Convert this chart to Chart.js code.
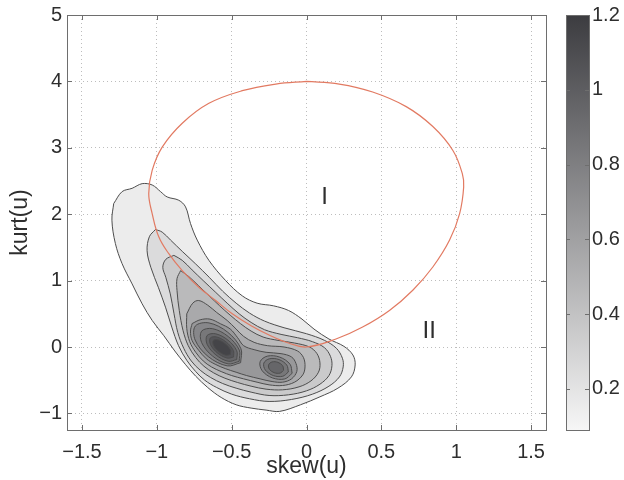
<!DOCTYPE html>
<html>
<head>
<meta charset="utf-8">
<script src="https://cdn.jsdelivr.net/npm/chart.js@4.4.1/dist/chart.umd.min.js"></script>
<style>
    body { margin: 0; background: #fff; }
</style>
</head>
<body>
<canvas id="contourChart" width="624" height="480"></canvas>
<script>
// ejes
const xTicks = [-1.5, -1, -0.5, 0, 0.5, 1, 1.5];
const yTicks = [-1, 0, 1, 2, 3, 4, 5];
const cbTicks = [0.2, 0.4, 0.6, 0.8, 1, 1.2];
const xRange = [-1.6, 1.6];
const yRange = [-1.25, 5];
const cbRange = [0.09, 1.2];

// niveles de contorno
const levels = [0.1, 0.2, 0.3, 0.4, 0.5, 0.6, 0.7, 0.8, 0.9, 1.0, 1.1];

// curvas de nivel [skew, kurt]
const c01 = [[-1.288,2.16],[-1.232,2.34],[-1.165,2.39],[-1.098,2.46],[-1.031,2.44],[-0.975,2.34],[-0.931,2.26],[-0.853,2.21],[-0.808,2.11],[-0.775,1.86],[-0.73,1.61],[-0.652,1.305],[-0.54,1.0],[-0.429,0.77],[-0.33,0.66],[-0.22,0.62],[-0.12,0.55],[-0.03,0.42],[0.05,0.27],[0.15,0.12],[0.25,0.01],[0.31,-0.12],[0.325,-0.27],[0.30,-0.45],[0.21,-0.62],[0.09,-0.75],[-0.04,-0.87],[-0.18,-0.97],[-0.27,-0.95],[-0.37,-0.92],[-0.47,-0.87],[-0.57,-0.76],[-0.66,-0.61],[-0.74,-0.44],[-0.81,-0.26],[-0.88,-0.06],[-0.953,0.17],[-1.031,0.40],[-1.098,0.65],[-1.165,0.95],[-1.232,1.255],[-1.277,1.56],[-1.30,1.91]];
const c02 = [[-1.009,1.77],[-0.964,1.73],[-0.908,1.61],[-0.83,1.44],[-0.74,1.25],[-0.65,1.05],[-0.56,0.84],[-0.47,0.66],[-0.38,0.51],[-0.28,0.39],[-0.15,0.29],[0.0,0.20],[0.12,0.10],[0.20,-0.02],[0.24,-0.17],[0.245,-0.30],[0.22,-0.45],[0.15,-0.59],[0.04,-0.71],[-0.10,-0.79],[-0.25,-0.82],[-0.38,-0.78],[-0.50,-0.71],[-0.60,-0.61],[-0.68,-0.50],[-0.74,-0.37],[-0.80,-0.20],[-0.855,0.02],[-0.90,0.30],[-0.942,0.60],[-0.99,0.90],[-1.04,1.20],[-1.065,1.45],[-1.05,1.66]];
const c03 = [[-0.886,1.38],[-0.83,1.305],[-0.764,1.16],[-0.69,1.0],[-0.61,0.83],[-0.53,0.66],[-0.45,0.50],[-0.37,0.37],[-0.28,0.26],[-0.17,0.19],[-0.06,0.14],[0.04,0.08],[0.12,-0.01],[0.16,-0.14],[0.17,-0.28],[0.15,-0.43],[0.09,-0.56],[0.0,-0.66],[-0.12,-0.72],[-0.25,-0.73],[-0.37,-0.68],[-0.47,-0.62],[-0.56,-0.55],[-0.64,-0.46],[-0.71,-0.35],[-0.77,-0.21],[-0.82,-0.02],[-0.86,0.22],[-0.885,0.50],[-0.91,0.80],[-0.94,1.05],[-0.96,1.2],[-0.94,1.32]];
const c04 = [[-0.841,1.15],[-0.786,1.06],[-0.72,0.92],[-0.65,0.77],[-0.58,0.62],[-0.51,0.48],[-0.44,0.35],[-0.37,0.24],[-0.29,0.15],[-0.19,0.10],[-0.08,0.06],[0.02,0.0],[0.07,-0.10],[0.09,-0.24],[0.08,-0.38],[0.03,-0.51],[-0.05,-0.60],[-0.16,-0.645],[-0.27,-0.635],[-0.37,-0.59],[-0.46,-0.535],[-0.545,-0.47],[-0.62,-0.39],[-0.685,-0.29],[-0.74,-0.16],[-0.79,0.02],[-0.825,0.25],[-0.85,0.55],[-0.865,0.85],[-0.865,1.03]];
const c05 = [[-0.80,0.50],[-0.76,0.66],[-0.72,0.70],[-0.66,0.63],[-0.60,0.52],[-0.53,0.40],[-0.47,0.27],[-0.42,0.16],[-0.35,0.07],[-0.26,0.02],[-0.15,0.0],[-0.06,-0.06],[-0.02,-0.16],[-0.01,-0.30],[-0.025,-0.42],[-0.08,-0.53],[-0.16,-0.58],[-0.25,-0.57],[-0.33,-0.53],[-0.42,-0.48],[-0.50,-0.43],[-0.57,-0.37],[-0.635,-0.30],[-0.69,-0.21],[-0.74,-0.08],[-0.78,0.08],[-0.80,0.28]];
const c06 = [[-0.764,0.353],[-0.71,0.41],[-0.645,0.42],[-0.575,0.35],[-0.509,0.27],[-0.46,0.14],[-0.42,0.02],[-0.35,-0.04],[-0.27,-0.08],[-0.17,-0.10],[-0.10,-0.15],[-0.07,-0.25],[-0.065,-0.37],[-0.10,-0.48],[-0.16,-0.53],[-0.23,-0.52],[-0.31,-0.48],[-0.40,-0.43],[-0.47,-0.38],[-0.543,-0.325],[-0.61,-0.26],[-0.669,-0.178],[-0.72,-0.05],[-0.765,0.10],[-0.775,0.24]];
const c07a = [[-0.440,-0.236],[-0.530,-0.284],[-0.657,-0.143],[-0.744,0.105],[-0.743,0.315],[-0.652,0.363],[-0.526,0.222],[-0.438,-0.026]];
const c07b = [[-0.096,-0.396],[-0.145,-0.481],[-0.228,-0.465],[-0.296,-0.358],[-0.310,-0.222],[-0.261,-0.137],[-0.178,-0.153],[-0.110,-0.260]];
const c08a = [[-0.450,-0.217],[-0.524,-0.254],[-0.628,-0.136],[-0.701,0.068],[-0.701,0.239],[-0.627,0.276],[-0.523,0.158],[-0.449,-0.046]];
const c08b = [[-0.121,-0.376],[-0.159,-0.441],[-0.222,-0.430],[-0.275,-0.347],[-0.285,-0.242],[-0.247,-0.177],[-0.184,-0.189],[-0.132,-0.271]];
const c09a = [[-0.466,-0.189],[-0.523,-0.215],[-0.605,-0.120],[-0.664,0.041],[-0.664,0.173],[-0.607,0.199],[-0.525,0.104],[-0.466,-0.057]];
const c09b = [[-0.153,-0.350],[-0.176,-0.393],[-0.216,-0.387],[-0.248,-0.335],[-0.253,-0.268],[-0.230,-0.225],[-0.191,-0.231],[-0.159,-0.283]];
const c10 = [[-0.487,-0.151],[-0.530,-0.167],[-0.595,-0.090],[-0.641,0.035],[-0.643,0.135],[-0.600,0.151],[-0.536,0.074],[-0.489,-0.051]];
const c11 = [[-0.508,-0.113],[-0.539,-0.124],[-0.586,-0.067],[-0.621,0.024],[-0.623,0.097],[-0.591,0.108],[-0.544,0.051],[-0.509,-0.040]];
const levelRings = [[c01], [c02], [c03], [c04], [c05], [c06], [c07a, c07b], [c08a, c08b], [c09a, c09b], [c10], [c11]];

// frontera roja
const boundary = [[0,4.0],[0.219,3.96],[0.442,3.84],[0.666,3.62],[0.844,3.32],[0.978,2.96],[1.041,2.61],[1.05,2.41],[1.023,2.01],[0.956,1.61],[0.844,1.205],[0.71,0.855],[0.554,0.55],[0.375,0.30],[0.197,0.12],[0,0.0],[-0.12,0.06],[-0.25,0.18],[-0.37,0.32],[-0.496,0.50],[-0.607,0.70],[-0.719,0.90],[-0.83,1.15],[-0.92,1.405],[-0.987,1.66],[-1.031,2.01],[-1.054,2.31],[-1.031,2.66],[-0.964,3.01],[-0.83,3.37],[-0.652,3.67],[-0.429,3.86],[-0.205,3.96]];

// regiones
const regionNames = ['I', 'II'];
const regionX = [0.12, 0.82];
const regionY = [2.25, 0.24];

const FONT = "'Liberation Sans', Arial, Helvetica, sans-serif";
const TEXT = '#2e2e2e';

document.addEventListener('DOMContentLoaded', function() {
    dibujarGrafico();
});

function grayAt(v) {
    let t = (v - cbRange[0]) / (cbRange[1] - cbRange[0]);
    t = Math.max(0, Math.min(1, t));
    const r = Math.round(246 - t * 186);
    const b = Math.round(246 - t * 182);
    return `rgb(${r},${r},${b})`;
}

function fmt(v) {
    return v < 0 ? '\u2212' + Math.abs(v) : String(v);
}

function closeRing(r) {
    const pts = r.map(p => ({x: p[0], y: p[1]}));
    pts.push({x: r[0][0], y: r[0][1]});
    return pts;
}

function sinPadding(s) {
    s.paddingTop = 0;
    s.paddingBottom = 0;
}

const frame = {
    id: 'frame',
    afterDatasetsDraw(chart) {
        const c = chart.ctx, a = chart.chartArea;
        const sx = chart.scales.x, sy = chart.scales.y;
        c.save();
        // etiquetas I, II
        c.fillStyle = TEXT;
        c.font = '24px ' + FONT;
        c.textAlign = 'center';
        c.textBaseline = 'middle';
        regionNames.forEach((n, i) => {
            c.fillText(n, sx.getPixelForValue(regionX[i]), sy.getPixelForValue(regionY[i]));
        });
        // marco y marcas
        c.strokeStyle = '#6e6e6e';
        c.lineWidth = 1;
        c.strokeRect(Math.round(a.left) + 0.5, Math.round(a.top) + 0.5, Math.round(a.right - a.left), Math.round(a.bottom - a.top));
        c.beginPath();
        xTicks.forEach(v => {
            const x = Math.round(sx.getPixelForValue(v)) + 0.5;
            c.moveTo(x, a.bottom); c.lineTo(x, a.bottom - 5);
            c.moveTo(x, a.top); c.lineTo(x, a.top + 5);
        });
        yTicks.forEach(v => {
            const y = Math.round(sy.getPixelForValue(v)) + 0.5;
            c.moveTo(a.left, y); c.lineTo(a.left + 5, y);
            c.moveTo(a.right, y); c.lineTo(a.right - 5, y);
        });
        c.stroke();
        c.restore();
    }
};

const colorbar = {
    id: 'colorbar',
    afterDraw(chart) {
        const c = chart.ctx, s = chart.scales.cb;
        const x0 = Math.round(s.left) + 20, w = 23;
        const top = Math.round(s.getPixelForValue(cbRange[1]));
        const bot = Math.round(s.getPixelForValue(cbRange[0]));
        c.save();
        const g = c.createLinearGradient(0, bot, 0, top);
        g.addColorStop(0, grayAt(cbRange[0]));
        g.addColorStop(1, grayAt(cbRange[1]));
        c.fillStyle = g;
        c.fillRect(x0, top, w, bot - top);
        c.strokeStyle = '#6e6e6e';
        c.lineWidth = 1;
        c.strokeRect(x0 + 0.5, top + 0.5, w, bot - top);
        c.beginPath();
        cbTicks.forEach(v => {
            const y = Math.round(s.getPixelForValue(v)) + 0.5;
            c.moveTo(x0, y); c.lineTo(x0 + 4, y);
            c.moveTo(x0 + w - 4, y); c.lineTo(x0 + w, y);
        });
        c.stroke();
        c.restore();
    }
};

function dibujarGrafico() {
    const ctx = document.getElementById('contourChart').getContext('2d');
    const datasets = [];

    datasets.push({
        data: closeRing(boundary),
        borderColor: '#e27a62',
        borderWidth: 1.2,
        fill: false,
        tension: 0.4,
        order: 0
    });

    levelRings.forEach((rings, i) => {
        rings.forEach(r => {
            datasets.push({
                data: closeRing(r),
                borderColor: '#4d4d4d',
                borderWidth: 1,
                backgroundColor: grayAt(levels[i] + 0.05),
                fill: 'shape',
                tension: 0.35,
                order: 100 - i
            });
        });
    });

    const tickFont = {family: FONT, size: 20};

    new Chart(ctx, {
        type: 'line',
        data: {datasets: datasets},
        options: {
            responsive: false,
            animation: false,
            elements: {point: {radius: 0}},
            layout: {padding: {top: 15, left: 0, right: 0, bottom: 0}},
            plugins: {legend: {display: false}, tooltip: {enabled: false}},
            scales: {
                x: {
                    type: 'linear',
                    min: xRange[0],
                    max: xRange[1],
                    afterBuildTicks: s => { s.ticks = xTicks.map(v => ({value: v})); },
                    afterFit: s => { s.height = 50; s.paddingLeft = 0; s.paddingRight = 0; },
                    grid: {color: '#bdbdbd', drawTicks: false},
                    border: {display: false, dash: [1, 3]},
                    ticks: {font: tickFont, color: TEXT, padding: 10, maxRotation: 0, autoSkip: false, callback: v => fmt(v)},
                    title: {display: true, text: 'skew(u)', font: {family: FONT, size: 23}, color: TEXT, padding: {top: 0, bottom: 0}}
                },
                y: {
                    type: 'linear',
                    min: yRange[0],
                    max: yRange[1],
                    afterBuildTicks: s => { s.ticks = yTicks.map(v => ({value: v})); },
                    afterFit: s => { s.width = 67; sinPadding(s); },
                    grid: {color: '#bdbdbd', drawTicks: false},
                    border: {display: false, dash: [1, 3]},
                    ticks: {font: tickFont, color: TEXT, padding: 5, autoSkip: false, callback: v => fmt(v)},
                    title: {display: true, text: 'kurt(u)', font: {family: FONT, size: 23}, color: TEXT, padding: {top: 7, bottom: 0}}
                },
                cb: {
                    type: 'linear',
                    position: 'right',
                    axis: 'y',
                    min: cbRange[0],
                    max: cbRange[1],
                    afterBuildTicks: s => { s.ticks = cbTicks.map(v => ({value: v})); },
                    afterFit: s => { s.width = 78; sinPadding(s); },
                    grid: {display: false, drawTicks: false},
                    border: {display: false},
                    ticks: {font: tickFont, color: TEXT, padding: 46, autoSkip: false, callback: v => fmt(v)}
                }
            }
        },
        plugins: [frame, colorbar]
    });
}
</script>
</body>
</html>
